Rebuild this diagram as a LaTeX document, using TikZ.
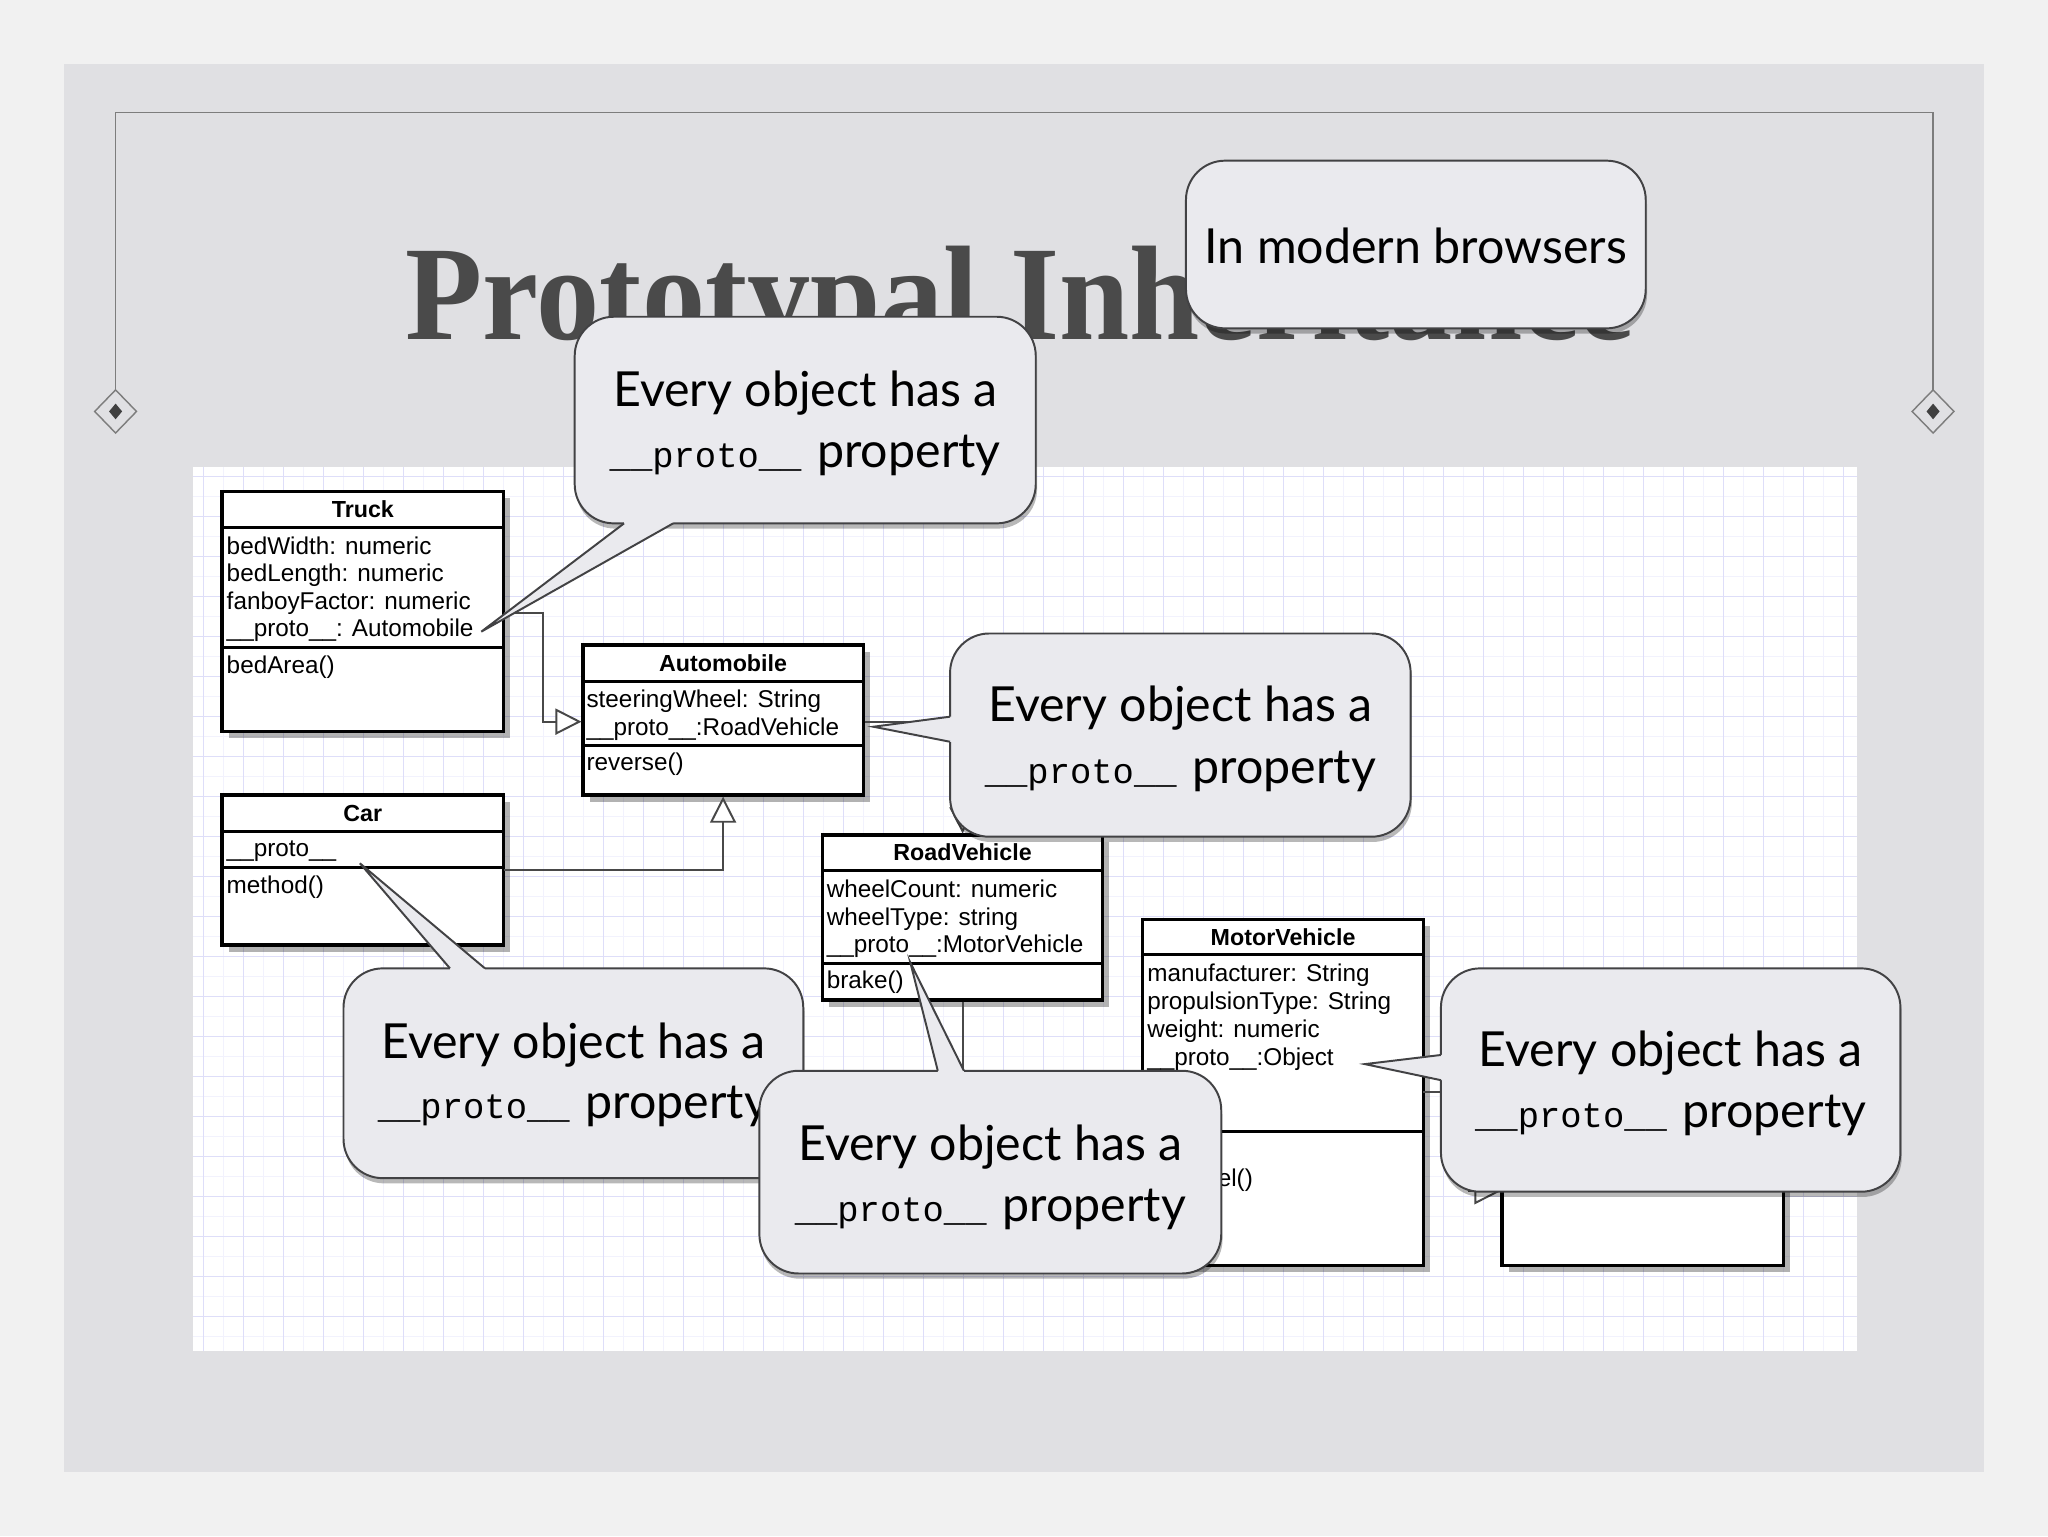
\documentclass[tikz,border=0pt]{standalone}
\usepackage{graphicx}
\usepackage{fontspec}
\setmainfont{Liberation Sans}
\newfontfamily\bubfont{Lato}
\newfontfamily\monofont{Liberation Mono}
\newfontfamily\titlefont{Liberation Serif}
\usetikzlibrary{arrows.meta,shadows,calc}
\definecolor{outerbg}{RGB}{241,241,241}
\definecolor{panelbg}{RGB}{224,224,227}
\definecolor{gridmaj}{RGB}{222,222,249}
\definecolor{gridmin}{RGB}{242,242,253}
\definecolor{bubfill}{RGB}{234,234,238}
\definecolor{bubline}{RGB}{66,66,68}
\definecolor{titlec}{RGB}{74,74,74}
\definecolor{framec}{RGB}{125,125,125}
\definecolor{connc}{RGB}{72,72,72}
\newcommand\protoline{{\monofont\fontsize{27.2}{30}\selectfont\_\_proto\_\_}\hspace{12pt}property}
\begin{document}
\begin{tikzpicture}[x=1pt,y=-1pt,
  bubble/.style={draw=bubline, line width=1.5pt, fill=bubfill, rounded corners=30pt, inner sep=0pt,
    drop shadow={shadow xshift=1pt,shadow yshift=-4pt,opacity=.28,fill=black}},
  bubedge/.style={draw=bubline, line width=1.5pt, line join=miter},
  bubtxt/.style={font=\bubfont\fontsize{37}{44}\selectfont, anchor=base, inner sep=0pt, text=black},
  umlbox/.style={draw=black, line width=2.4pt, fill=white, inner sep=0pt,
    drop shadow={shadow xshift=5pt,shadow yshift=-5pt,opacity=.3,fill=black}},
  umlline/.style={draw=black, line width=2.4pt},
  umltxt/.style={font=\fontsize{18.6}{21}\selectfont, anchor=base west, inner sep=0pt},
  umlhead/.style={font=\bfseries\fontsize{17.8}{21}\selectfont, anchor=base, inner sep=0pt},
  conn/.style={draw=connc, line width=1.5pt},
  gen/.style={conn, -{Triangle[length=20pt,width=20pt,fill=white]}},
  framel/.style={draw=framec, line width=1.1pt}
]
\useasboundingbox (0,0) rectangle (1568,1176);
% backgrounds
\fill[outerbg] (0,0) rectangle (1568,1176);
\fill[panelbg] (49,49) rectangle (1519,1127);
% frame
\draw[framel] (88.5,298.5) -- (88.5,86) -- (1480,86) -- (1480,298.5);
\draw[framel] (88.5,298.5) -- (104.5,315) -- (88.5,331.5) -- (72.5,315) -- cycle;
\draw[framel] (1480,298.5) -- (1496,315) -- (1480,331.5) -- (1464,315) -- cycle;
\fill[black!75] (88.5,309) -- (93.5,315) -- (88.5,321) -- (83.5,315) -- cycle;
\fill[black!75] (1480,309) -- (1485,315) -- (1480,321) -- (1475,315) -- cycle;
% title
\node[anchor=base west, inner sep=0pt, text=titlec] (title) at (310.5,260.3)
  {\resizebox{940.5pt}{71.5pt}{\titlefont\bfseries Prototypal Inheritance}};
% UML canvas
\fill[white] (148,357.8) rectangle (1421.6,1034);
\foreach \i in {0,...,40} \draw[gridmin, line width=0.6pt] ({170.9+30.63*\i},357.8) -- ++(0,676.2);
\foreach \j in {0,...,21} \draw[gridmin, line width=0.6pt] (148,{380.3+30.63*\j}) -- (1421.6,{380.3+30.63*\j});
\foreach \i in {0,...,41} \draw[gridmaj, line width=0.9pt] ({155.6+30.63*\i},357.8) -- ++(0,676.2);
\foreach \j in {0,...,21} \draw[gridmaj, line width=0.9pt] (148,{365+30.63*\j}) -- (1421.6,{365+30.63*\j});

% ---- UML boxes ----
% Truck
\node[umlbox, minimum width=215.6pt, minimum height=183.5pt] (truck) at (277.8,468.25) {};
\draw[umlline] (170,403.6) -- (385.6,403.6);
\draw[umlline] (170,496) -- (385.6,496);
\node[umlhead] (truckh) at (277.8,396.3) {Truck};
\node[umltxt] (truck1) at (173.4,424.2) {bedWidth: numeric};
\node[umltxt] (truck2) at (173.4,445.4) {bedLength: numeric};
\node[umltxt] (truck3) at (173.4,466.6) {fanboyFactor: numeric};
\node[umltxt] (truck4) at (173.4,487.6) {\_\_proto\_\_: Automobile};
\node[umltxt] (truck5) at (173.4,515.5) {bedArea()};
% Automobile
\node[umlbox, minimum width=214.4pt, minimum height=114.9pt] (auto) at (553.6,551.25) {};
\draw[umlline] (446.4,522) -- (660.8,522);
\draw[umlline] (446.4,571) -- (660.8,571);
\node[umlhead] (autoh) at (553.6,513.8) {Automobile};
\node[umltxt] (auto1) at (448.9,541.6) {steeringWheel: String};
\node[umltxt] (auto2) at (448.9,562.8) {\_\_proto\_\_:RoadVehicle};
\node[umltxt] (auto3) at (448.9,589.6) {reverse()};
% Car
\node[umlbox, minimum width=215.6pt, minimum height=114.8pt] (car) at (277.8,666.1) {};
\draw[umlline] (170,636.8) -- (385.6,636.8);
\draw[umlline] (170,664) -- (385.6,664);
\node[umlhead] (carh) at (277.8,629.1) {Car};
\node[umltxt] (car1) at (173.4,655.9) {\_\_proto\_\_};
\node[umltxt] (car2) at (173.4,684) {method()};
% RoadVehicle
\node[umlbox, minimum width=214.7pt, minimum height=126.3pt] (road) at (736.95,702.45) {};
\draw[umlline] (629.6,666.6) -- (844.3,666.6);
\draw[umlline] (629.6,737.6) -- (844.3,737.6);
\node[umlhead] (roadh) at (736.95,659) {RoadVehicle};
\node[umltxt] (road1) at (632.8,687) {wheelCount: numeric};
\node[umltxt] (road2) at (632.8,708.2) {wheelType: string};
\node[umltxt] (road3) at (632.8,729.2) {\_\_proto\_\_:MotorVehicle};
\node[umltxt] (road4) at (632.8,756.7) {brake()};
% MotorVehicle
\node[umlbox, minimum width=214.7pt, minimum height=264.8pt] (motor) at (982.35,836.6) {};
\draw[umlline] (875,731) -- (1089.7,731);
\draw[umlline] (875,866) -- (1089.7,866);
\node[umlhead] (motorh) at (982.35,723.6) {MotorVehicle};
\node[umltxt] (motor1) at (878.2,751.6) {manufacturer: String};
\node[umltxt] (motor2) at (878.2,772.8) {propulsionType: String};
\node[umltxt] (motor3) at (878.2,794.2) {weight: numeric};
\node[umltxt] (motor4) at (878.2,816) {\_\_proto\_\_:Object};
\node[umltxt, anchor=base east] (motor5) at (959.4,908.6) {el()};
% Object (partly hidden)
\node[umlbox, minimum width=215.6pt, minimum height=89pt] (object) at (1257.8,924.5) {};

% ---- connectors ----
\coordinate (c1a) at (385.6,469);
\coordinate (c1b) at (415.7,552.5);
\draw[gen] (c1a) -| (c1b) -- (c1b -| auto.west);
\coordinate (c2a) at (385.6,666);
\draw[gen] (c2a) -| (auto.south);
\draw[gen] (c1b -| auto.east) -| (road.north);
\coordinate (c4) at (0,905);
\draw[gen] (road.south) |- (c4 -| motor.west);
\coordinate (c5a) at (1089.7,836);
\coordinate (c5b) at (1125,912);
\draw[gen] (c5a) -| (c5b) -- (c5b -| object.west);

% ---- bubbles ----
% b1
\node[bubble, minimum width=352pt, minimum height=128.4pt] (b1) at (1084,187.2) {};
\node[bubtxt] (b1t) at (1084,201.6) {In modern browsers};
% b2
\node[bubble, minimum width=353pt, minimum height=158.2pt] (b2) at (616.5,321.6) {};
\coordinate (b2tip) at (368.5,483.6);
\fill[bubfill] (477.8,396.5) -- (477.8,400.7) -- (b2tip) -- (515.4,400.7) -- (515.4,396.5) -- cycle;
\draw[bubedge] (477.8,400.7) -- (b2tip) -- (515.4,400.7);
\node[bubtxt] (b2t1) at (616.5,311) {Every object has a};
\node[bubtxt] (b2t2) at (616.5,358) {\protoline};
% b3
\node[bubble, minimum width=352.6pt, minimum height=155.6pt] (b3) at (903.7,562.8) {};
\coordinate (b3tip) at (668.7,556.4);
\fill[bubfill] (731.5,548.7) -- (727.4,548.7) -- (b3tip) -- (727.4,567.9) -- (731.5,567.9) -- cycle;
\draw[bubedge] (727.4,548.7) -- (b3tip) -- (727.4,567.9);
\node[bubtxt] (b3t1) at (903.7,552.5) {Every object has a};
\node[bubtxt] (b3t2) at (903.7,599.8) {\protoline};
% b4
\node[bubble, minimum width=352pt, minimum height=160.6pt] (b4) at (439,821.7) {};
\coordinate (b4tip) at (275.6,661);
\fill[bubfill] (344.5,745.5) -- (344.5,741.4) -- (b4tip) -- (371.3,741.4) -- (371.3,745.5) -- cycle;
\draw[bubedge] (344.5,741.4) -- (b4tip) -- (371.3,741.4);
\node[bubtxt] (b4t1) at (439,810.3) {Every object has a};
\node[bubtxt] (b4t2) at (439,856.3) {\protoline};
% b5
\node[bubble, minimum width=353.6pt, minimum height=155.2pt] (b5) at (758.2,897.4) {};
\coordinate (b5tip) at (697,737);
\fill[bubfill] (718,824) -- (718,819.8) -- (b5tip) -- (738,819.8) -- (738,824) -- cycle;
\draw[bubedge] (718,819.8) -- (b5tip) -- (738,819.8);
\node[bubtxt] (b5t1) at (758.2,888.2) {Every object has a};
\node[bubtxt] (b5t2) at (758.2,935.4) {\protoline};
% b6
\node[bubble, minimum width=351.8pt, minimum height=171pt] (b6) at (1279.1,826.9) {};
\coordinate (b6tip) at (1045,814.7);
\fill[bubfill] (1107.5,807.7) -- (1103.2,807.7) -- (b6tip) -- (1103.2,827) -- (1107.5,827) -- cycle;
\draw[bubedge] (1103.2,807.7) -- (b6tip) -- (1103.2,827);
\node[bubtxt] (b6t1) at (1279.1,816.2) {Every object has a};
\node[bubtxt] (b6t2) at (1279.1,863) {\protoline};
\end{tikzpicture}
\end{document}
